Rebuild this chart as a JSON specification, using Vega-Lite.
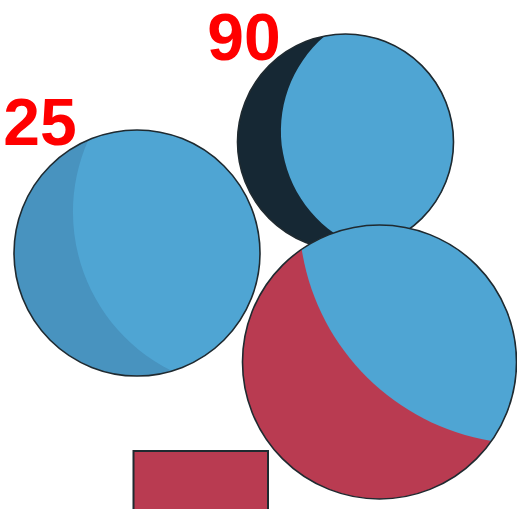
{
  "$schema": "https://vega.github.io/schema/vega-lite/v6.json",
  "width": 517,
  "height": 509,
  "autosize": "none",
  "padding": 0,
  "background": "white",
  "config": {"view": {"stroke": null}},
  "datasets": {
    "spheres": [
      {"name": "A", "x": 137, "y": 256},
      {"name": "B", "x": 345.5, "y": 367},
      {"name": "C", "x": 379.5, "y": 147}
    ],
    "labels": [
      {"label": "25", "x": 40, "y": 364},
      {"label": "90", "x": 244, "y": 449}
    ],
    "bars": [
      {"x": 133.5, "x2": 268, "y": 58, "y2": -5}
    ]
  },
  "encoding": {
    "x": {"field": "x", "type": "quantitative", "scale": {"domain": [0, 517], "nice": false, "zero": false}, "axis": null},
    "y": {"field": "y", "type": "quantitative", "scale": {"domain": [0, 509], "nice": false, "zero": false}, "axis": null}
  },
  "layer": [
    {"data": {"name": "spheres"}, "transform": [{"filter": "datum.name === 'A'"}],
     "mark": {"type": "point", "shape": "circle", "filled": true, "size": 60516, "color": "#4893bf", "opacity": 1, "strokeWidth": 0}},
    {"data": {"name": "spheres"}, "transform": [{"filter": "datum.name === 'A'"}],
     "mark": {"type": "point", "shape": "M -0.3961 -0.9182 A 1 1 0 1 1 0.2849 0.9586 A 1.439 1.439 0 0 1 -0.3961 -0.9182 Z", "filled": true, "size": 60516, "color": "#4fa5d3", "opacity": 1, "strokeWidth": 0}},
    {"data": {"name": "spheres"}, "transform": [{"filter": "datum.name === 'A'"}],
     "mark": {"type": "point", "shape": "circle", "filled": false, "size": 60516, "color": "#1f2a30", "opacity": 1, "strokeWidth": 1.6}},

    {"data": {"name": "spheres"}, "transform": [{"filter": "datum.name === 'B'"}],
     "mark": {"type": "point", "shape": "circle", "filled": true, "size": 46656, "color": "#162834", "opacity": 1, "strokeWidth": 0}},
    {"data": {"name": "spheres"}, "transform": [{"filter": "datum.name === 'B'"}],
     "mark": {"type": "point", "shape": "M -0.1923 -0.9813 A 1 1 0 1 1 0.1657 0.9861 A 1.1574 1.1574 0 0 1 -0.1923 -0.9813 Z", "filled": true, "size": 46656, "color": "#4fa5d3", "opacity": 1, "strokeWidth": 0}},
    {"data": {"name": "spheres"}, "transform": [{"filter": "datum.name === 'B'"}],
     "mark": {"type": "point", "shape": "circle", "filled": false, "size": 46656, "color": "#1f2a30", "opacity": 1, "strokeWidth": 1.6}},

    {"data": {"name": "spheres"}, "transform": [{"filter": "datum.name === 'C'"}],
     "mark": {"type": "point", "shape": "circle", "filled": true, "size": 75076, "color": "#b93b51", "opacity": 1, "strokeWidth": 0}},
    {"data": {"name": "spheres"}, "transform": [{"filter": "datum.name === 'C'"}],
     "mark": {"type": "point", "shape": "M -0.5678 -0.8232 A 1 1 0 0 1 0.8174 0.5762 A 1.6788 1.6788 0 0 1 -0.5678 -0.8232 Z", "filled": true, "size": 75076, "color": "#4fa5d3", "opacity": 1, "strokeWidth": 0}},
    {"data": {"name": "spheres"}, "transform": [{"filter": "datum.name === 'C'"}],
     "mark": {"type": "point", "shape": "circle", "filled": false, "size": 75076, "color": "#1f2a30", "opacity": 1, "strokeWidth": 1.6}},

    {"data": {"name": "bars"},
     "mark": {"type": "rect", "color": "#b93b51", "stroke": "#1f2a30", "strokeWidth": 2, "clip": true},
     "encoding": {"x2": {"field": "x2"}, "y2": {"field": "y2"}}},

    {"data": {"name": "labels"},
     "mark": {"type": "text", "align": "center", "baseline": "alphabetic", "color": "#ff0000", "fontSize": 66, "fontWeight": "bold", "font": "Liberation Sans"},
     "encoding": {"text": {"field": "label"}}}
  ]
}
